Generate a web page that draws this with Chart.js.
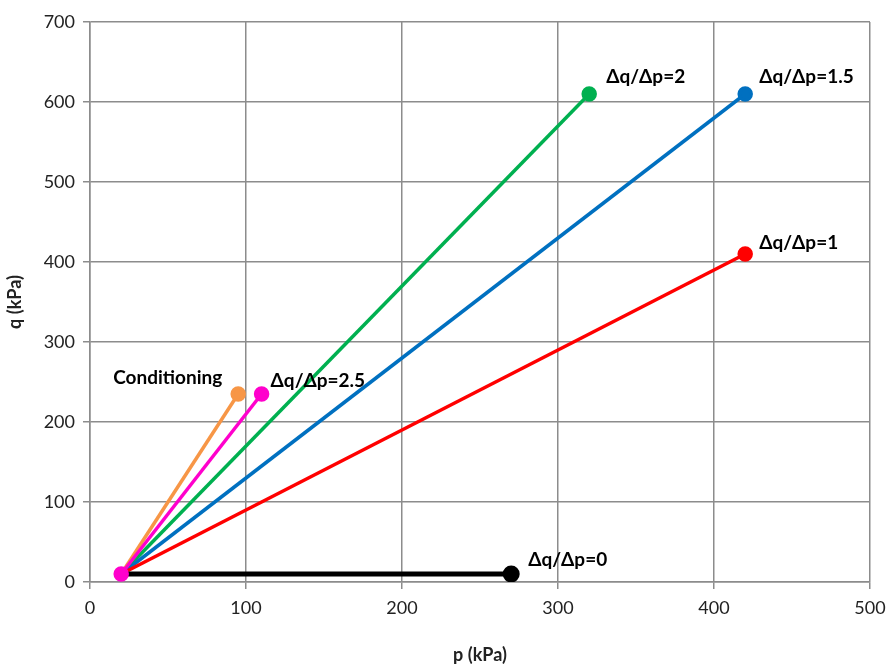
<!DOCTYPE html>
<html>
<head>
<meta charset="utf-8">
<script src="https://cdn.jsdelivr.net/npm/chart.js@4/dist/chart.umd.min.js"></script>
<style>
  html, body { margin: 0; padding: 0; background: #fff; }
  #wrap { width: 889px; height: 670px; }
</style>
</head>
<body>
<div id="wrap"><canvas id="c"></canvas></div>
<script>
const seriesNames = ['Δq/Δp=0', 'Δq/Δp=1', 'Δq/Δp=1.5', 'Δq/Δp=2', 'Δq/Δp=2.5', 'Conditioning']
const startP = [20, 20, 20, 20, 20, 20]
const startQ = [10, 10, 10, 10, 10, 10]
const endP = [270, 420, 420, 320, 110, 95]
const endQ = [10, 410, 610, 610, 235, 235]
const colors = ['#000000', '#ff0000', '#0070c0', '#00b050', '#ff00cc', '#f79646']
const xTicks = [0, 100, 200, 300, 400, 500]
const yTicks = [0, 100, 200, 300, 400, 500, 600, 700]

// label offsets from the end point, px
const labelOffsets = [[17, -14], [14, -11], [14, -17], [17, -17], [9, -13], [-16, -16]]
const labelAlign = ['left', 'left', 'left', 'left', 'left', 'right']

const datasets = seriesNames.map((name, i) => ({
  label: name,
  data: [{ x: startP[i], y: startQ[i] }, { x: endP[i], y: endQ[i] }],
  borderColor: colors[i],
  backgroundColor: colors[i],
  borderWidth: i === 0 ? 5 : 3.5,
  pointRadius: [i === 4 ? 6 : 0, 6],
  pointHoverRadius: 6,
  showLine: true,
  // magenta drawn last so its start marker sits on top
  order: i === 4 ? 0 : 1,
}))

const endLabels = {
  id: 'endLabels',
  afterDatasetsDraw(chart) {
    const { ctx, scales } = chart
    ctx.save()
    ctx.font = 'bold 19px Lato, "Open Sans", sans-serif'
    ctx.fillStyle = '#000'
    ctx.textBaseline = 'middle'
    seriesNames.forEach((name, i) => {
      const x = scales.x.getPixelForValue(endP[i]) + labelOffsets[i][0]
      const y = scales.y.getPixelForValue(endQ[i]) + labelOffsets[i][1]
      ctx.textAlign = labelAlign[i]
      ctx.fillText(name, x, y)
    })
    ctx.restore()
  },
}

const font = 'Lato, "Open Sans", sans-serif'

new Chart(document.getElementById('c'), {
  type: 'scatter',
  data: { datasets },
  options: {
    responsive: true,
    maintainAspectRatio: false,
    animation: false,
    layout: { padding: { top: 22, right: 19, left: 0, bottom: 0 } },
    plugins: { legend: { display: false }, tooltip: { enabled: false } },
    scales: {
      x: {
        type: 'linear',
        min: 0,
        max: 500,
        afterBuildTicks: (s) => { s.ticks = xTicks.map((v) => ({ value: v })) },
        afterFit: (s) => { s.height = 88; s.paddingRight = 0; s.paddingLeft = 0 },
        grid: { color: '#8c8c8c', lineWidth: 1.5, tickLength: 7 },
        border: { color: '#8c8c8c', width: 1.5 },
        ticks: { color: '#222', font: { size: 18, family: font }, padding: 8 },
        title: {
          display: true,
          text: 'p (kPa)',
          color: '#222',
          font: { size: 18, weight: 'bold', family: font },
          padding: { top: 6, bottom: 4 },
        },
      },
      y: {
        type: 'linear',
        min: 0,
        max: 700,
        afterBuildTicks: (s) => { s.ticks = yTicks.map((v) => ({ value: v })) },
        afterFit: (s) => { s.width = 90 },
        grid: { color: '#8c8c8c', lineWidth: 1.5, tickLength: 7 },
        border: { color: '#8c8c8c', width: 1.5 },
        ticks: { color: '#222', font: { size: 18, family: font }, padding: 8 },
        title: {
          display: true,
          text: 'q (kPa)',
          color: '#222',
          font: { size: 18, weight: 'bold', family: font },
          padding: { top: 4, bottom: 4 },
        },
      },
    },
  },
  plugins: [endLabels],
})
</script>
</body>
</html>
